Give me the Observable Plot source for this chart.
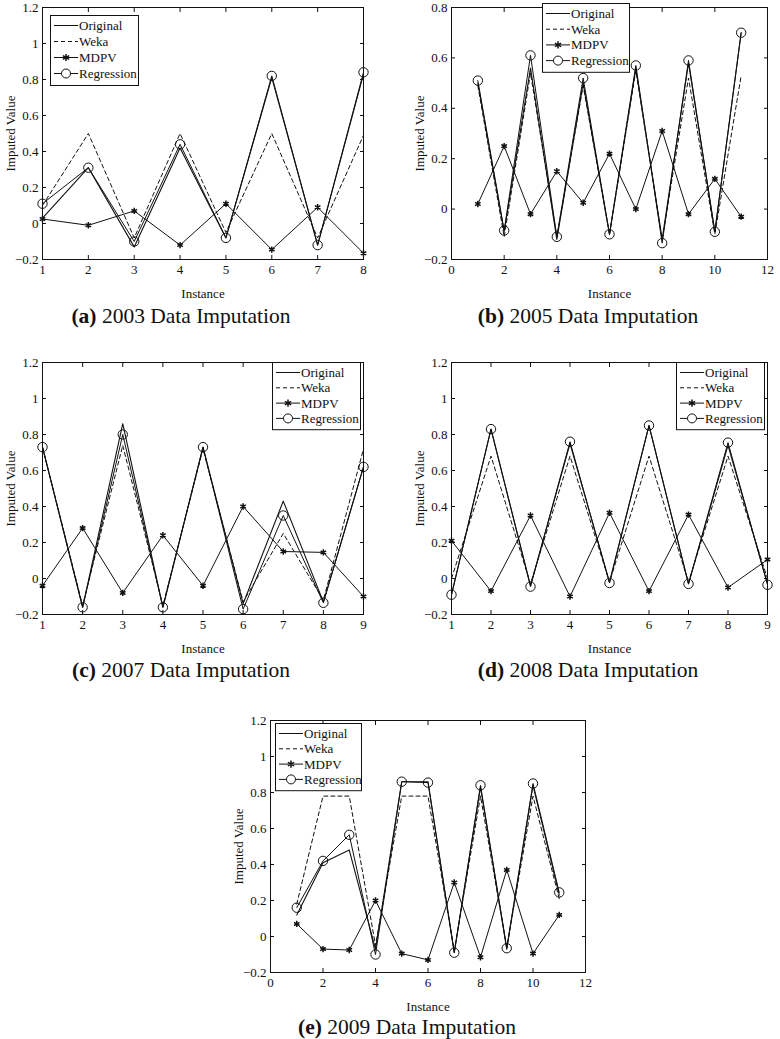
<!DOCTYPE html>
<html>
<head>
<meta charset="utf-8">
<script src="https://cdn.jsdelivr.net/npm/d3@7"></script>
<script src="https://cdn.jsdelivr.net/npm/@observablehq/plot@0.6"></script>
<style>
  html, body { margin: 0; padding: 0; background: #fff; }
  #page { position: relative; width: 780px; height: 1039px; background: #fff; overflow: hidden; }
  #page svg, #page svg text { font-family: "Liberation Serif", "Times New Roman", serif !important; }
  .abs { position: absolute; }
  .cap { position: absolute; font-family: "Liberation Serif", "Times New Roman", serif; font-size: 21.5px; color: #111; text-align: center; white-space: nowrap; }
  .cap b { font-weight: bold; }
</style>
</head>
<body>
<div id="page"></div>
<script>
// ---------- data ----------
const seriesNames = ["Original", "Weka", "MDPV", "Regression"];

const instancesA = [1, 2, 3, 4, 5, 6, 7, 8];
const originalA  = [0.03, 0.31, -0.13, 0.42, -0.08, 0.81, -0.12, 0.83];
const wekaA      = [0.10, 0.50, -0.08, 0.50, -0.05, 0.50, -0.08, 0.49];
const mdpvA      = [0.025, -0.01, 0.07, -0.12, 0.11, -0.145, 0.09, -0.165];
const regressionA= [0.11, 0.31, -0.10, 0.44, -0.08, 0.82, -0.12, 0.84];

const instancesB = [1, 2, 3, 4, 5, 6, 7, 8, 9, 10, 11];
const originalB  = [0.50, -0.09, 0.56, -0.12, 0.50, -0.10, 0.56, -0.12, 0.58, -0.09, 0.70];
const wekaB      = [0.49, -0.11, 0.54, -0.11, 0.49, -0.10, 0.55, -0.12, 0.52, -0.10, 0.53];
const mdpvB      = [0.02, 0.25, -0.02, 0.15, 0.025, 0.22, 0.0, 0.31, -0.02, 0.12, -0.03];
const regressionB= [0.51, -0.085, 0.61, -0.11, 0.52, -0.10, 0.57, -0.135, 0.59, -0.09, 0.70];

const instancesC = [1, 2, 3, 4, 5, 6, 7, 8, 9];
const originalC  = [0.73, -0.16, 0.86, -0.16, 0.73, -0.14, 0.43, -0.13, 0.62];
const wekaC      = [0.73, -0.15, 0.74, -0.15, 0.72, -0.13, 0.25, -0.12, 0.72];
const mdpvC      = [-0.04, 0.28, -0.08, 0.24, -0.04, 0.40, 0.15, 0.145, -0.10];
const regressionC= [0.73, -0.16, 0.80, -0.16, 0.73, -0.17, 0.35, -0.135, 0.62];

const instancesD = [1, 2, 3, 4, 5, 6, 7, 8, 9];
const originalD  = [-0.09, 0.83, -0.04, 0.75, -0.02, 0.85, -0.03, 0.74, -0.03];
const wekaD      = [0.0, 0.68, -0.03, 0.68, -0.02, 0.68, -0.02, 0.68, 0.0];
const mdpvD      = [0.21, -0.07, 0.35, -0.10, 0.365, -0.07, 0.355, -0.05, 0.105];
const regressionD= [-0.09, 0.83, -0.045, 0.76, -0.025, 0.85, -0.03, 0.755, -0.035];

const instancesE = [1, 2, 3, 4, 5, 6, 7, 8, 9, 10, 11];
const originalE  = [0.12, 0.41, 0.48, -0.07, 0.86, 0.86, -0.09, 0.83, -0.07, 0.84, 0.23];
const wekaE      = [0.18, 0.78, 0.78, -0.05, 0.78, 0.78, -0.08, 0.78, -0.06, 0.78, 0.21];
const mdpvE      = [0.07, -0.07, -0.075, 0.20, -0.095, -0.13, 0.30, -0.115, 0.37, -0.095, 0.12];
const regressionE= [0.16, 0.42, 0.565, -0.10, 0.86, 0.855, -0.09, 0.84, -0.065, 0.85, 0.245];

// tick labels
const xTicks1to8  = [1, 2, 3, 4, 5, 6, 7, 8];
const xTicks1to9  = [1, 2, 3, 4, 5, 6, 7, 8, 9];
const xTicks0to12 = [0, 2, 4, 6, 8, 10, 12];
const yTicksTall  = [-0.2, 0, 0.2, 0.4, 0.6, 0.8, 1, 1.2];
const yTicksShort = [-0.2, 0, 0.2, 0.4, 0.6, 0.8];

const captionYears = ["2003", "2005", "2007", "2008", "2009"];
const captionTags  = ["(a)", "(b)", "(c)", "(d)", "(e)"];

// ---------- helpers ----------
const INK = "#111";
const SERIF = "Liberation Serif, Times New Roman, serif";
const fmt = d => (d < 0 ? "\u2212" + Math.abs(d) : String(d));

function table(xs, orig, weka, mdpv, reg) {
  const rows = [];
  [orig, weka, mdpv, reg].forEach((arr, k) => {
    arr.forEach((v, i) => rows.push({ series: seriesNames[k], x: xs[i], y: v }));
  });
  return rows;
}

function panel(cfg) {
  const data = table(cfg.xs, cfg.orig, cfg.weka, cfg.mdpv, cfg.reg);
  const of = name => data.filter(d => d.series === name);
  return Plot.plot({
    width: cfg.width, height: 300,
    marginLeft: cfg.ml, marginRight: cfg.mr, marginTop: 7, marginBottom: 41,
    style: { fontFamily: SERIF, fontSize: "13px", color: INK, background: "transparent", overflow: "visible" },
    x: { domain: cfg.xDomain },
    y: { domain: cfg.yDomain },
    marks: [
      Plot.axisX({ ticks: cfg.xTicks, anchor: "bottom", tickSize: -4, tickPadding: 9, tickFormat: fmt,
                   label: "Instance", labelAnchor: "center", labelArrow: "none", labelOffset: 38, fontSize: 13 }),
      Plot.axisX({ ticks: cfg.xTicks, anchor: "top", tickSize: -4, tickFormat: () => "", label: null }),
      Plot.axisY({ ticks: cfg.yTicks, anchor: "left", tickSize: -4, tickPadding: 8, tickFormat: fmt,
                   label: "Imputed Value", labelAnchor: "center", labelArrow: "none", labelOffset: 37, fontSize: 13 }),
      Plot.axisY({ ticks: cfg.yTicks, anchor: "right", tickSize: -4, tickFormat: () => "", label: null }),
      Plot.line(of("Weka"), { x: "x", y: "y", stroke: INK, strokeWidth: 1, strokeDasharray: "4,3" }),
      Plot.line(of("Original"), { x: "x", y: "y", stroke: INK, strokeWidth: 1.1 }),
      Plot.line(of("MDPV"), { x: "x", y: "y", stroke: INK, strokeWidth: 1 }),
      Plot.dot(of("MDPV"), { x: "x", y: "y", symbol: "asterisk", r: 3, stroke: INK, strokeWidth: 1.5 }),
      Plot.line(of("Regression"), { x: "x", y: "y", stroke: INK, strokeWidth: 1 }),
      Plot.dot(of("Regression"), { x: "x", y: "y", symbol: "circle", r: 4.7, stroke: INK, fill: "none", strokeWidth: 1 }),
      Plot.frame({ stroke: INK, strokeWidth: 1 })
    ]
  });
}

function legend(left, top, w, rowGap) {
  const h = rowGap * 4 + 6;
  const svg = d3.create("svg").attr("width", w + 2).attr("height", h + 2)
    .style("position", "absolute").style("left", left + "px").style("top", top + "px").style("overflow", "visible");
  svg.append("rect").attr("x", 0.5).attr("y", 0.5).attr("width", w).attr("height", h)
    .attr("fill", "#fff").attr("stroke", INK).attr("stroke-width", 1);
  const x0 = 4, x1 = 28, xm = (x0 + x1) / 2;
  seriesNames.forEach((name, i) => {
    const cy = 10.5 + i * rowGap;
    const ln = svg.append("line").attr("x1", x0).attr("x2", x1).attr("y1", cy).attr("y2", cy)
      .attr("stroke", INK).attr("stroke-width", 1);
    if (name === "Weka") ln.attr("stroke-dasharray", "4,3");
    if (name === "MDPV") {
      svg.append("path").attr("d", d3.symbol(d3.symbolAsterisk, 3 * 3 * 4)())
        .attr("transform", `translate(${xm},${cy})`).attr("stroke", INK).attr("stroke-width", 1.5).attr("fill", "none");
    }
    if (name === "Regression") {
      svg.append("circle").attr("cx", xm).attr("cy", cy).attr("r", 4.5).attr("fill", "#fff").attr("stroke", INK);
    }
    svg.append("text").attr("x", x1 + 1).attr("y", cy).attr("dy", "0.35em")
      .attr("font-family", SERIF).attr("font-size", 13).attr("fill", INK).text(name);
  });
  return svg.node();
}

const page = document.getElementById("page");
function place(node, left, top) {
  const div = document.createElement("div");
  div.className = "abs";
  div.style.left = left + "px";
  div.style.top = top + "px";
  div.appendChild(node);
  page.appendChild(div);
}
function caption(i, cx, cy) {
  const div = document.createElement("div");
  div.className = "cap";
  div.style.left = (cx - 200) + "px";
  div.style.width = "400px";
  div.style.top = (cy - 13) + "px";
  div.innerHTML = `<b>${captionTags[i]}</b> ${captionYears[i]} Data Imputation`;
  page.appendChild(div);
}

// ---------- panels ----------
place(panel({ width: 380, ml: 42, mr: 17, xs: instancesA, orig: originalA, weka: wekaA, mdpv: mdpvA, reg: regressionA,
  xDomain: [1, 8], xTicks: xTicks1to8, yDomain: [-0.2, 1.2], yTicks: yTicksTall }), 0, 0);
place(panel({ width: 390, ml: 61, mr: 13, xs: instancesB, orig: originalB, weka: wekaB, mdpv: mdpvB, reg: regressionB,
  xDomain: [0, 12], xTicks: xTicks0to12, yDomain: [-0.2, 0.8], yTicks: yTicksShort }), 390, 0);
place(panel({ width: 380, ml: 42, mr: 17, xs: instancesC, orig: originalC, weka: wekaC, mdpv: mdpvC, reg: regressionC,
  xDomain: [1, 9], xTicks: xTicks1to9, yDomain: [-0.2, 1.2], yTicks: yTicksTall }), 0, 355);
place(panel({ width: 390, ml: 61, mr: 13, xs: instancesD, orig: originalD, weka: wekaD, mdpv: mdpvD, reg: regressionD,
  xDomain: [1, 9], xTicks: xTicks1to9, yDomain: [-0.2, 1.2], yTicks: yTicksTall }), 390, 355);
place(panel({ width: 390, ml: 60, mr: 15, xs: instancesE, orig: originalE, weka: wekaE, mdpv: mdpvE, reg: regressionE,
  xDomain: [0, 12], xTicks: xTicks0to12, yDomain: [-0.2, 1.2], yTicks: yTicksTall }), 210, 713);

// ---------- legends ----------
page.appendChild(legend(50, 15, 88, 16));
page.appendChild(legend(542, 3, 87, 15.7));
page.appendChild(legend(272, 362, 88, 15.3));
page.appendChild(legend(676, 362, 88, 15.3));
page.appendChild(legend(275, 723, 86, 15.3));

// ---------- captions ----------
caption(0, 181, 317);
caption(1, 588, 317);
caption(2, 181, 671);
caption(3, 588, 671);
caption(4, 407, 1028);
</script>
</body>
</html>
